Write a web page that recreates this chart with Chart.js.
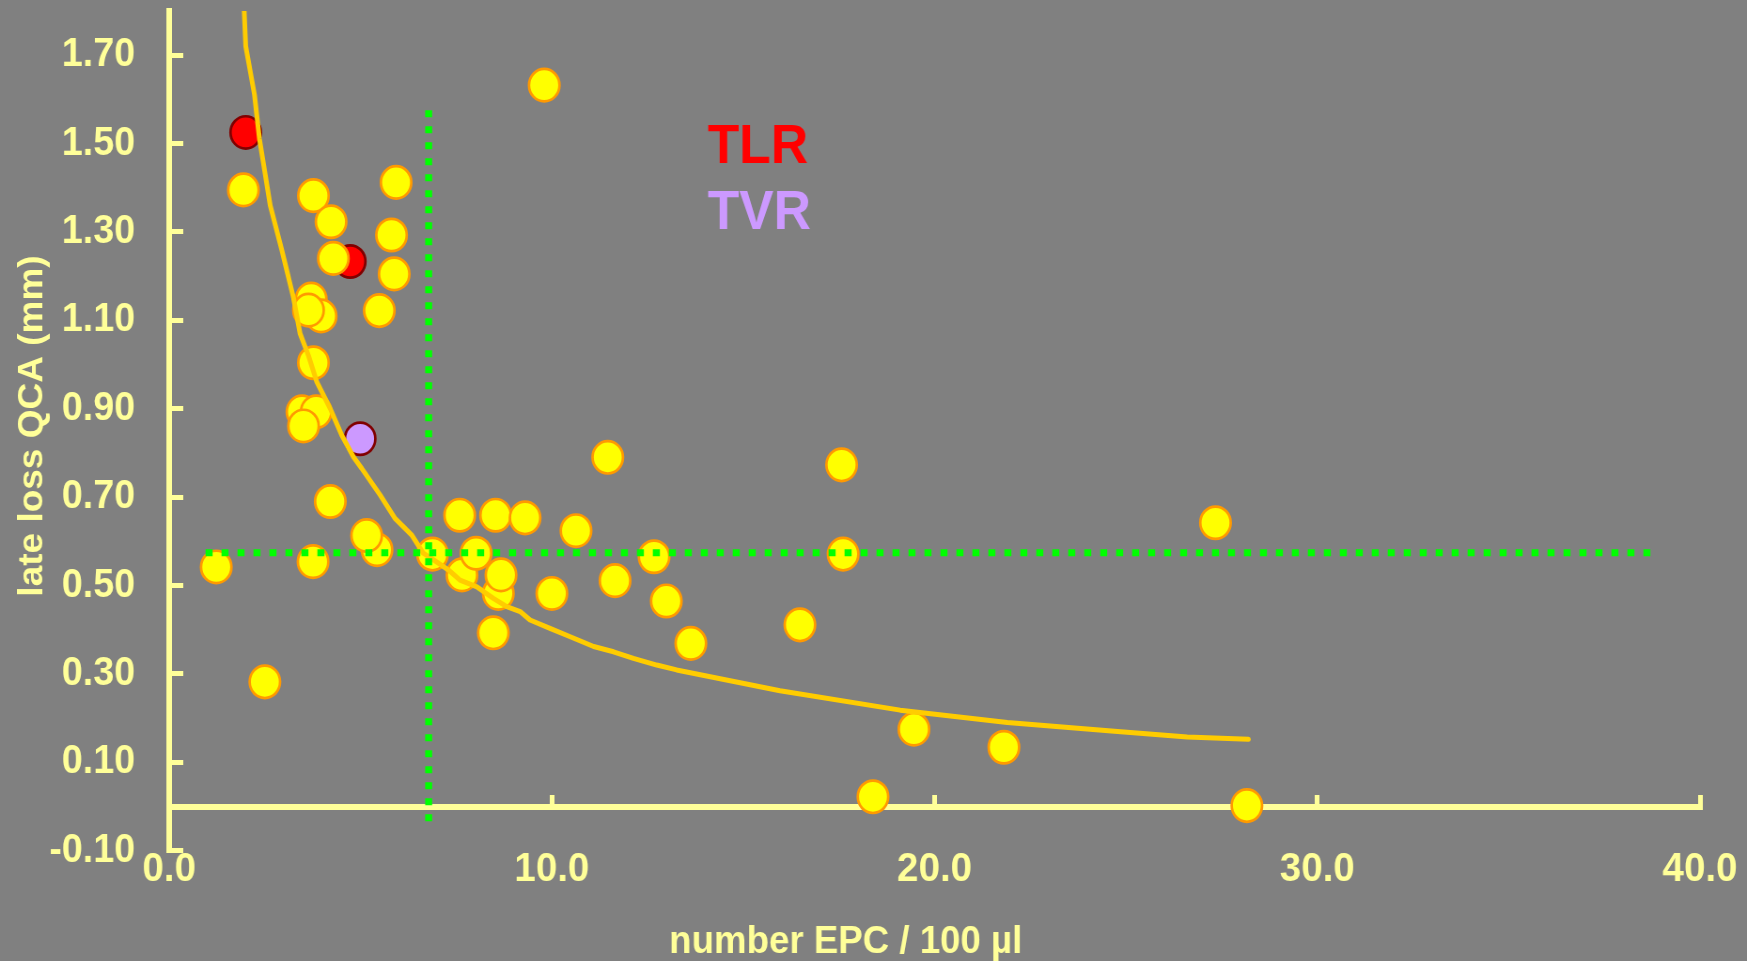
<!DOCTYPE html>
<html>
<head>
<meta charset="utf-8">
<title>Late loss vs EPC</title>
<script src="https://cdn.jsdelivr.net/npm/chart.js@4.4.1/dist/chart.umd.min.js"></script>
<style>
  html, body { margin: 0; padding: 0; background: #808080; overflow: hidden; }
  /* the plot is laid out on a slightly wider canvas and condensed horizontally */
  #wrap { position: absolute; left: 0; top: 0; width: 1859px; height: 961px;
          transform: scaleX(0.93975); transform-origin: 0 0; }
</style>
</head>
<body>
<div id="wrap"><canvas id="chart"></canvas></div>
<script>
// ---- data ---------------------------------------------------------------
// all patients: EPC count per 100 µl and late loss (mm)
const epc = [1.23, 2.50, 1.94, 3.77, 4.23, 4.29, 3.71, 3.97, 3.64, 3.77,
             3.47, 3.84, 3.51, 4.21, 3.76, 5.43, 5.16, 5.49, 5.93, 5.81,
             5.88, 9.80, 6.88, 7.59, 7.65, 8.02, 8.53, 8.60, 8.67, 8.47,
             9.30, 10.00, 10.63, 11.46, 11.65, 12.67, 12.99, 13.63, 16.48, 17.57,
             17.61, 18.39, 19.46, 21.81, 27.34, 28.16];
const lateLoss = [0.542, 0.282, 1.395, 1.382, 1.323, 1.240, 1.148, 1.110, 1.123, 1.004,
                  0.893, 0.893, 0.861, 0.690, 0.554, 0.581, 0.613, 1.122, 1.412, 1.293,
                  1.205, 1.632, 0.571, 0.659, 0.524, 0.573, 0.659, 0.482, 0.524, 0.393,
                  0.653, 0.482, 0.624, 0.790, 0.511, 0.565, 0.465, 0.369, 0.411, 0.773,
                  0.571, 0.022, 0.175, 0.134, 0.642, 0.002];

// target lesion revascularisation
const tlrEpc = [2.00, 4.73];
const tlrLoss = [1.525, 1.233];
// target vessel revascularisation
const tvrEpc = [4.99];
const tvrLoss = [0.832];

// fitted trend curve
const fitEpc = [1.96, 2.00, 2.23, 2.36, 2.51, 2.64, 2.94, 3.25, 3.42, 3.64,
                3.86, 4.21, 4.51, 4.82, 5.03, 5.51, 5.90, 6.34, 6.64, 6.91,
                7.30, 7.60, 8.04, 8.47, 8.82, 9.17, 9.43, 9.95, 10.48, 11.09,
                11.61, 12.13, 12.74, 13.26, 15.96, 19.10, 21.90, 24.70, 26.60, 28.20];
const fitLoss = [1.80, 1.72, 1.61, 1.51, 1.43, 1.36, 1.26, 1.15, 1.07, 1.02,
                 0.96, 0.90, 0.84, 0.79, 0.765, 0.705, 0.652, 0.614, 0.573, 0.558,
                 0.535, 0.512, 0.497, 0.471, 0.452, 0.441, 0.422, 0.403, 0.384, 0.362,
                 0.350, 0.335, 0.320, 0.309, 0.262, 0.218, 0.190, 0.170, 0.157, 0.152];

// median cut-offs (dotted guides) and their extents
const medianEpc = 6.78;
const medianEpcLossRange = [1.575, -0.05];
const medianLoss = 0.574;
const medianLossEpcRange = [0.95, 38.8];

// axes
const xTicks = [0, 10, 20, 30, 40];
const yTicks = [-0.10, 0.10, 0.30, 0.50, 0.70, 0.90, 1.10, 1.30, 1.50, 1.70];
const xTitle = 'number EPC / 100 µl';
const yTitle = 'late loss QCA (mm)';
const legendTLR = 'TLR';
const legendTVR = 'TVR';

// ---- styling ------------------------------------------------------------
const AXIS = '#FFFF99';
const FONT = '"Liberation Sans", Arial, sans-serif';
const toPoints = (xs, ys) => xs.map((x, i) => ({ x, y: ys[i] }));

const zeroPadding = (scale) => {
  scale.paddingLeft = 0; scale.paddingRight = 0;
  scale.paddingTop = 0; scale.paddingBottom = 0;
};

// axis titles and the TLR / TVR key
const labelsPlugin = {
  id: 'labels',
  afterDraw(chart) {
    const ctx = chart.ctx;
    ctx.save();
    ctx.fillStyle = AXIS;
    ctx.textBaseline = 'alphabetic';

    ctx.font = 'bold 37px ' + FONT;
    ctx.save();
    ctx.translate(44.8, 426);
    ctx.rotate(-Math.PI / 2);
    ctx.textAlign = 'center';
    ctx.fillText(yTitle, 0, 0);
    ctx.restore();

    ctx.font = 'bold 39px ' + FONT;
    ctx.textAlign = 'center';
    ctx.fillText(xTitle, 900, 953);

    ctx.font = 'bold 55px ' + FONT;
    ctx.textAlign = 'left';
    ctx.fillStyle = '#FF0000';
    ctx.fillText(legendTLR, 753, 163.3);
    ctx.fillStyle = '#CC99FF';
    ctx.fillText(legendTVR, 753, 229.3);
    ctx.restore();
  }
};

const pointBase = { showLine: false, pointRadius: 16.2, pointBorderWidth: 2.7, pointHoverRadius: 16.2 };

new Chart(document.getElementById('chart'), {
  type: 'scatter',
  data: {
    datasets: [
      {
        label: 'median late loss',
        data: [{ x: medianLossEpcRange[0], y: medianLoss }, { x: medianLossEpcRange[1], y: medianLoss }],
        showLine: true, pointRadius: 0, borderColor: '#00FF00', borderWidth: 7,
        borderDash: [7.5, 9.5], borderCapStyle: 'butt', order: 0
      },
      {
        label: 'median EPC',
        data: [{ x: medianEpc, y: medianEpcLossRange[0] }, { x: medianEpc, y: medianEpcLossRange[1] }],
        showLine: true, pointRadius: 0, borderColor: '#00FF00', borderWidth: 7.4,
        borderDash: [7, 9], borderCapStyle: 'butt', order: 0
      },
      {
        label: 'fit',
        data: toPoints(fitEpc, fitLoss),
        showLine: true, pointRadius: 0, borderColor: '#FFCC00', borderWidth: 5,
        borderJoinStyle: 'round', borderCapStyle: 'round',
        tension: 0, order: 1
      },
      Object.assign({
        label: legendTVR, data: toPoints(tvrEpc, tvrLoss),
        backgroundColor: '#CC99FF', borderColor: '#800000', order: 2
      }, pointBase),
      Object.assign({
        label: 'patients', data: toPoints(epc, lateLoss),
        backgroundColor: '#FFFF00', borderColor: '#FF9900', order: 3
      }, pointBase),
      Object.assign({
        label: legendTLR, data: toPoints(tlrEpc, tlrLoss),
        backgroundColor: '#FF0000', borderColor: '#800000', order: 4
      }, pointBase)
    ]
  },
  options: {
    responsive: true,
    maintainAspectRatio: false,
    animation: false,
    events: [],
    layout: { autoPadding: false, padding: { left: 0, right: 50, top: 10.9, bottom: 110.3 } },
    plugins: { legend: { display: false }, tooltip: { enabled: false } },
    scales: {
      x: {
        type: 'linear',
        position: { y: 0 },
        min: 0, max: 40,
        afterBuildTicks: (s) => { s.ticks = xTicks.map(v => ({ value: v })); },
        afterFit: zeroPadding,
        border: { display: true, color: AXIS, width: 6 },
        grid: { drawOnChartArea: false, drawTicks: true, tickLength: -15,
                color: AXIS, tickColor: AXIS, tickWidth: 5, lineWidth: 5 },
        ticks: {
          color: AXIS, padding: 54, maxRotation: 0, autoSkip: false,
          font: { family: FONT, size: 41, weight: 'bold' },
          callback: (v) => Number(v).toFixed(1)
        }
      },
      y: {
        type: 'linear',
        position: 'left',
        min: -0.10, max: 1.80,
        afterBuildTicks: (s) => { s.ticks = yTicks.map(v => ({ value: v })); },
        afterFit: (s) => { s.width = 180; zeroPadding(s); },
        border: { display: true, color: AXIS, width: 6 },
        grid: { drawOnChartArea: false, drawTicks: true, tickLength: -15,
                color: AXIS, tickColor: AXIS, tickWidth: 5, lineWidth: 5 },
        ticks: {
          color: AXIS, padding: 51.3, autoSkip: false,
          font: { family: FONT, size: 40, weight: 'bold' },
          callback: (v) => Number(v).toFixed(2)
        }
      }
    }
  },
  plugins: [labelsPlugin]
});
</script>
</body>
</html>
